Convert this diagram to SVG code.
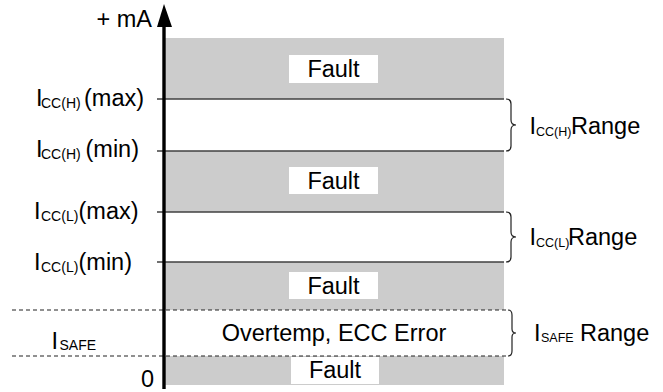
<svg xmlns="http://www.w3.org/2000/svg" width="663" height="392" viewBox="0 0 663 392">
<defs>
<style>
.t{font-family:"Liberation Sans",Arial,sans-serif;font-size:23.5px;fill:#000}
.s{font-size:14px}
.rs{font-size:12.5px}
.band{fill:#cccccc}
.box{fill:#ffffff}
.tick{stroke:#404040;stroke-width:1.3;fill:none}
.dash{stroke:#222;stroke-width:1.2;stroke-dasharray:4 3;fill:none}
.brace{stroke:#222;stroke-width:1.2;fill:none}
</style>
</defs>
<rect width="663" height="392" fill="#fff"/>
<g id="bands">
<rect class="band" x="164" y="38" width="340" height="61"/>
<rect class="band" x="164" y="151" width="340" height="61"/>
<rect class="band" x="164" y="262" width="340" height="48"/>
<rect class="band" x="164" y="356" width="340" height="29"/>
</g>
<g id="connectors">
<line class="tick" x1="157" y1="99" x2="504" y2="99"/>
<line class="tick" x1="157" y1="151" x2="504" y2="151"/>
<line class="tick" x1="157" y1="212" x2="504" y2="212"/>
<line class="tick" x1="157" y1="262" x2="504" y2="262"/>
<line class="dash" x1="12" y1="310" x2="508" y2="310"/>
<line class="dash" x1="12" y1="356" x2="508" y2="356"/>
<path class="brace" d="M506,99 Q511,99 511,104 L511,120 Q511,125 516,125 Q511,125 511,130 L511,146 Q511,151 506,151"/>
<path class="brace" d="M506,212 Q511,212 511,217 L511,232 Q511,237 516,237 Q511,237 511,242 L511,257 Q511,262 506,262"/>
<path class="brace" d="M508,310 Q512,310 512,315 L512,329 Q512,333 516,333 Q512,333 512,337 L512,351 Q512,356 508,356"/>
</g>
<g id="axis">
<line x1="164" y1="24" x2="164" y2="389" stroke="#000" stroke-width="3.4"/>
<polygon points="164,4 157,27 172,27" fill="#000"/>
<text class="t" x="152" y="27" text-anchor="end">+ mA</text>
<text class="t" x="141" y="386.5">0</text>
</g>
<g id="fault1">
<rect class="box" x="289" y="55" width="89" height="28"/>
<text class="t" x="333.5" y="77" text-anchor="middle">Fault</text>
</g>
<g id="fault2">
<rect class="box" x="289" y="167" width="89" height="27"/>
<text class="t" x="333.5" y="189" text-anchor="middle">Fault</text>
</g>
<g id="fault3">
<rect class="box" x="289" y="272" width="89" height="27"/>
<text class="t" x="333.5" y="294" text-anchor="middle">Fault</text>
</g>
<g id="fault4">
<rect class="box" x="291" y="357" width="88" height="27"/>
<text class="t" x="335" y="378" text-anchor="middle">Fault</text>
</g>
<g id="safe-band">
<text class="t" x="334" y="341" text-anchor="middle">Overtemp, ECC Error</text>
</g>
<g id="label-icch-max">
<text class="t" y="106"><tspan x="36">I</tspan><tspan class="s" x="41" y="108">CC(H)</tspan><tspan x="84" y="106">(max)</tspan></text>
</g>
<g id="label-icch-min">
<text class="t" y="157"><tspan x="36">I</tspan><tspan class="s" x="41" y="159">CC(H)</tspan><tspan x="85.5" y="157">(min)</tspan></text>
</g>
<g id="label-iccl-max">
<text class="t" y="219"><tspan x="34">I</tspan><tspan class="s" x="41" y="221">CC(L)</tspan><tspan x="78.5" y="219">(max)</tspan></text>
</g>
<g id="label-iccl-min">
<text class="t" y="270"><tspan x="34">I</tspan><tspan class="s" x="41" y="272">CC(L)</tspan><tspan x="78.5" y="270">(min)</tspan></text>
</g>
<g id="label-isafe">
<text class="t" y="349"><tspan x="51.5">I</tspan><tspan class="s" x="59.5" y="350">SAFE</tspan></text>
</g>
<g id="range-icch">
<text class="t" y="134"><tspan x="529.5">I</tspan><tspan class="rs" x="536" y="136">CC(H)</tspan><tspan x="571" y="134">Range</tspan></text>
</g>
<g id="range-iccl">
<text class="t" y="245"><tspan x="529.5">I</tspan><tspan class="rs" x="536" y="247">CC(L)</tspan><tspan x="568" y="245">Range</tspan></text>
</g>
<g id="range-isafe">
<text class="t" y="341"><tspan x="534">I</tspan><tspan class="rs" x="541" y="342">SAFE</tspan><tspan x="580" y="341">Range</tspan></text>
</g>
</svg>
